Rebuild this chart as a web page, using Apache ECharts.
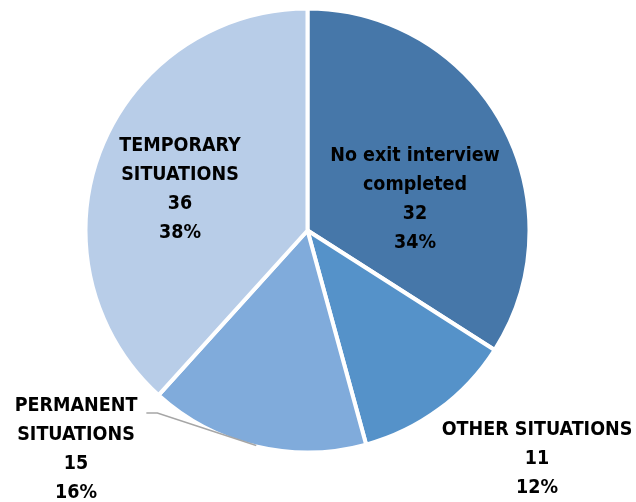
<!DOCTYPE html>
<html>
<head>
<meta charset="utf-8">
<script src="https://cdn.jsdelivr.net/npm/echarts@6/dist/echarts.min.js"></script>
<style>html,body{margin:0;padding:0;background:#fff}#c{width:636px;height:502px}</style>
</head>
<body>
<div id="c"></div>
<script>
var categories = ['No exit interview\ncompleted', 'OTHER SITUATIONS', 'PERMANENT\nSITUATIONS', 'TEMPORARY\nSITUATIONS'];
var values = [32, 11, 15, 36];

var colors = ['#4677A9', '#5592C9', '#80ABDB', '#B8CDE8'];
var labelCenters = [[415, 199], [537, 459], [76, 449], [180, 189]];
var leaderIndex = 2;
var FONT = "'DejaVu Sans Condensed', 'Liberation Sans Narrow', sans-serif";

var chart = echarts.init(document.getElementById('c'), null, {renderer: 'canvas'});
var leaderPts = null;
var data = categories.map(function (n, i) {
  return {name: n, value: values[i], itemStyle: {color: colors[i]}};
});
chart.setOption({
  animation: false,
  series: [{
    type: 'pie',
    center: [307.5, 230.5],
    radius: [0, 222],
    startAngle: 90,
    clockwise: true,
    percentPrecision: 0,
    avoidLabelOverlap: false,
    itemStyle: {borderColor: '#fff', borderWidth: 4},
    labelLine: {show: false},
    label: {
      show: true,
      position: 'outside',
      formatter: '{b}\n{c}\n{d}%',
      color: '#000',
      fontFamily: FONT,
      fontWeight: 'bold',
      fontSize: 19.5,
      lineHeight: 29,
      align: 'center'
    },
    labelLayout: function (p) {
      var c = labelCenters[p.dataIndex];
      if (p.dataIndex === leaderIndex) {
        var lay = chart.getModel().getSeriesByIndex(0).getData().getItemLayout(leaderIndex);
        var mid = (lay.startAngle + lay.endAngle) / 2;
        var rr = lay.r - 1;
        var p0 = [lay.cx + rr * Math.cos(mid), lay.cy + rr * Math.sin(mid)];
        var right = c[0] + p.labelRect.width / 2;
        var top = c[1] - p.labelRect.height / 2;
        leaderPts = [p0, [right + 20, top + 22], [right + 9, top + 22]];
      }
      return {x: c[0], y: c[1], align: 'center', verticalAlign: 'middle'};
    },
    data: data
  }]
});
if (leaderPts) {
  chart.setOption({
    graphic: [{
      type: 'polyline', z: 100, silent: true,
      shape: {points: leaderPts},
      style: {stroke: '#A6A6A6', lineWidth: 1.5, fill: null}
    }]
  });
}
</script>
</body>
</html>
